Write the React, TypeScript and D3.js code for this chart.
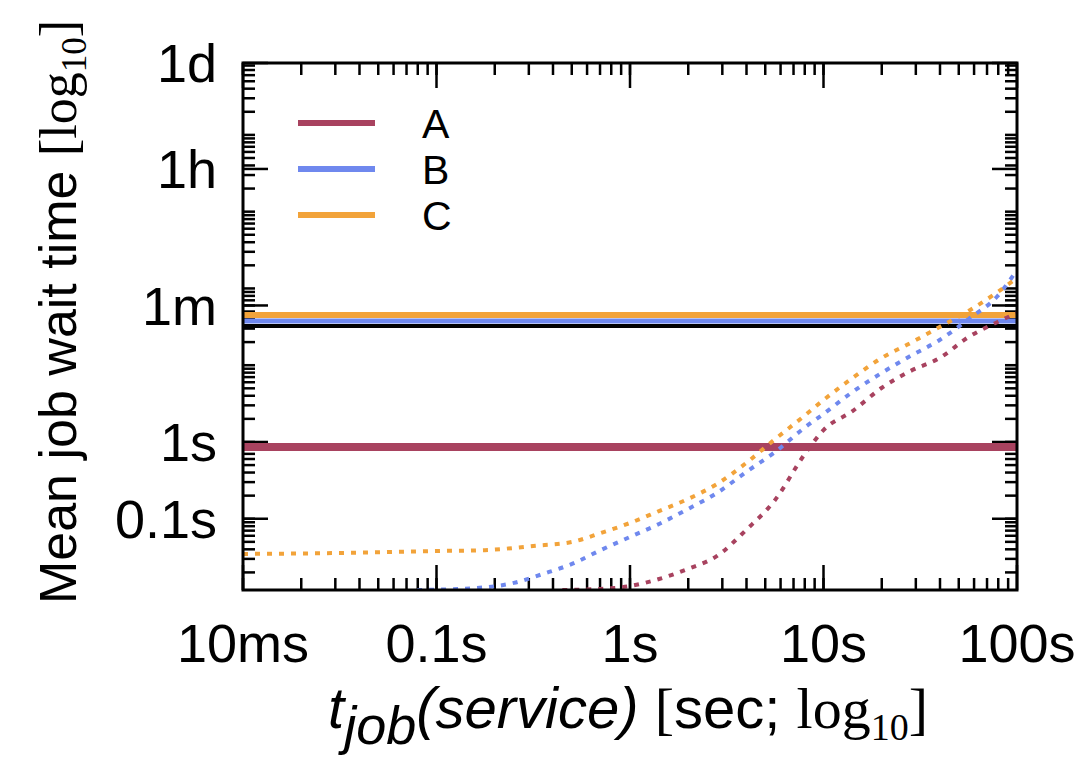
import React from "react";
import * as d3 from "d3";

// Service time samples (seconds) for the dotted curves
const tA = [0.447, 0.708, 1, 1.413, 1.995, 2.818, 3.981, 5.623, 7.943, 10, 14.13, 19.95, 28.18, 39.81, 56.23, 79.43, 100];
const vA = [0.0118, 0.0122, 0.0133, 0.0164, 0.0222, 0.0328, 0.0714, 0.176, 0.678, 1.43, 2.53, 5.05, 8.41, 12.4, 23.3, 36.6, 47.9];

const tB = [0.0794, 0.1585, 0.2512, 0.3548, 0.5012, 0.708, 1, 1.413, 1.995, 2.818, 3.981, 5.623, 7.943, 10, 14.13, 19.95, 28.18, 39.81, 56.23, 79.43, 100];
const vB = [0.0118, 0.0125, 0.0146, 0.0191, 0.0258, 0.0392, 0.0579, 0.0855, 0.134, 0.217, 0.406, 0.741, 1.52, 2.32, 4.48, 7.92, 13.2, 21.3, 40.0, 79.8, 174];

const tC = [0.01, 0.0316, 0.1, 0.1778, 0.3162, 0.5012, 0.708, 1, 1.413, 1.995, 2.818, 3.981, 5.623, 7.943, 10, 14.13, 19.95, 28.18, 39.81, 56.23, 79.43, 100];
const vC = [0.0348, 0.0358, 0.038, 0.039, 0.0442, 0.0498, 0.0653, 0.0881, 0.126, 0.181, 0.284, 0.532, 1.09, 2.18, 3.52, 6.82, 12.4, 19.5, 31.5, 50.9, 89.9, 137];

// Flat mean wait times (seconds) for the solid lines
const flatA = 0.86;
const flatB = 37.7;
const flatC = 45;
const flatRef = 32.4;

const seriesNames = ["A", "B", "C"];
const seriesColors = ["#a8425f", "#6f88ee", "#f2a33a"];

const xTickValues = [0.01, 0.1, 1, 10, 100];
const xTickLabels = ["10ms", "0.1s", "1s", "10s", "100s"];
const yTickValues = [86400, 3600, 60, 1, 0.1];
const yTickLabels = ["1d", "1h", "1m", "1s", "0.1s"];

const W = 1080;
const H = 770;
const left = 243;
const right = 1017;
const top = 63;
const bottom = 590;

const SANS = "'Liberation Sans', Arial, Helvetica, sans-serif";
const SERIF = "'Liberation Serif', 'DejaVu Serif', serif";

export default function App() {
  const x = d3.scaleLog().domain([0.01, 100]).range([left, right]);
  const y = d3.scaleLog().domain([0.0118, 86400]).range([bottom, top]);

  const line = d3
    .line<[number, number]>()
    .x((d) => x(d[0]))
    .y((d) => y(d[1]))
    .curve(d3.curveMonotoneX);

  const curves = [
    { pts: tA.map((t, i) => [t, vA[i]] as [number, number]), color: seriesColors[0] },
    { pts: tB.map((t, i) => [t, vB[i]] as [number, number]), color: seriesColors[1] },
    { pts: tC.map((t, i) => [t, vC[i]] as [number, number]), color: seriesColors[2] },
  ];

  // minor log ticks
  const xMinor: number[] = [];
  for (let e = -2; e < 2; e++) for (let k = 1; k <= 9; k++) xMinor.push(k * Math.pow(10, e));
  const yMinor: number[] = [];
  for (let e = -2; e < 5; e++)
    for (let k = 1; k <= 9; k++) {
      const v = k * Math.pow(10, e);
      if (v >= 0.0118 && v <= 86400) yMinor.push(v);
    }

  const major = 25;
  const minor = 12;

  return (
    <svg width={W} height={H} style={{ position: "absolute", left: 0, top: 0, background: "#fff" }}>
      <defs>
        <clipPath id="plotArea">
          <rect x={left} y={top} width={right - left} height={bottom - top} />
        </clipPath>
      </defs>

      {/* tick marks, mirrored on all sides */}
      <g stroke="#000" strokeWidth={2.5}>
        {xMinor.map((v, i) => (
          <g key={"xm" + i}>
            <line x1={x(v)} x2={x(v)} y1={bottom} y2={bottom - minor} />
            <line x1={x(v)} x2={x(v)} y1={top} y2={top + minor} />
          </g>
        ))}
        {xTickValues.map((v, i) => (
          <g key={"xM" + i}>
            <line x1={x(v)} x2={x(v)} y1={bottom} y2={bottom - major} />
            <line x1={x(v)} x2={x(v)} y1={top} y2={top + major} />
          </g>
        ))}
        {yMinor.map((v, i) => (
          <g key={"ym" + i}>
            <line x1={left} x2={left + minor} y1={y(v)} y2={y(v)} />
            <line x1={right} x2={right - minor} y1={y(v)} y2={y(v)} />
          </g>
        ))}
        {yTickValues.map((v, i) => (
          <g key={"yM" + i}>
            <line x1={left} x2={left + major} y1={y(v)} y2={y(v)} />
            <line x1={right} x2={right - major} y1={y(v)} y2={y(v)} />
          </g>
        ))}
      </g>

      {/* data */}
      <g clipPath="url(#plotArea)">
        <line x1={left} x2={right} y1={y(flatA)} y2={y(flatA)} stroke={seriesColors[0]} strokeWidth={8} />
        <line x1={left} x2={right} y1={y(flatRef)} y2={y(flatRef)} stroke="#000" strokeWidth={4} />
        <line x1={left} x2={right} y1={y(flatB)} y2={y(flatB)} stroke={seriesColors[1]} strokeWidth={5} />
        <line x1={left} x2={right} y1={y(flatC)} y2={y(flatC)} stroke={seriesColors[2]} strokeWidth={6} />
        {curves.map((c, i) => (
          <path
            key={"c" + i}
            d={line(c.pts) || ""}
            fill="none"
            stroke={c.color}
            strokeWidth={4}
            strokeDasharray="5 7"
          />
        ))}
      </g>

      {/* frame */}
      <rect x={left} y={top} width={right - left} height={bottom - top} fill="none" stroke="#000" strokeWidth={3} />

      {/* tick labels */}
      <g fontFamily={SANS} fontSize={54} fill="#000">
        {xTickValues.map((v, i) => (
          <text key={"xl" + i} x={x(v)} y={662} textAnchor="middle">
            {xTickLabels[i]}
          </text>
        ))}
        {yTickValues.map((v, i) => (
          <text key={"yl" + i} x={217} y={y(v)} dy="0.36em" textAnchor="end">
            {yTickLabels[i]}
          </text>
        ))}
      </g>

      {/* legend */}
      <g>
        {seriesNames.map((name, i) => (
          <g key={"lg" + i}>
            <line x1={298} x2={375} y1={123 + i * 46} y2={123 + i * 46} stroke={seriesColors[i]} strokeWidth={6} />
            <text x={422} y={123 + i * 46} dy="0.36em" fontFamily={SANS} fontSize={41} fill="#000">
              {name}
            </text>
          </g>
        ))}
      </g>

      {/* axis titles */}
      <text transform="translate(76,312) rotate(-90)" textAnchor="middle" fontFamily={SANS} fontSize={52} fill="#000">
        <tspan>Mean job wait time </tspan>
        <tspan fontFamily={SERIF}>[log</tspan>
        <tspan fontFamily={SERIF} fontSize={35} dy={10}>10</tspan>
        <tspan fontFamily={SERIF} dy={-10}>]</tspan>
      </text>

      <text x={628} y={728} textAnchor="middle" fontFamily={SANS} fontSize={58} fill="#000">
        <tspan fontStyle="italic">t</tspan>
        <tspan fontStyle="italic" fontSize={54} dy={16}>job</tspan>
        <tspan fontStyle="italic" dy={-16}>(service)</tspan>
        <tspan> </tspan>
        <tspan fontFamily={SERIF}>[</tspan>
        <tspan>sec; </tspan>
        <tspan fontFamily={SERIF}>log</tspan>
        <tspan fontFamily={SERIF} fontSize={38} dy={12}>10</tspan>
        <tspan fontFamily={SERIF} dy={-12}>]</tspan>
      </text>
    </svg>
  );
}
